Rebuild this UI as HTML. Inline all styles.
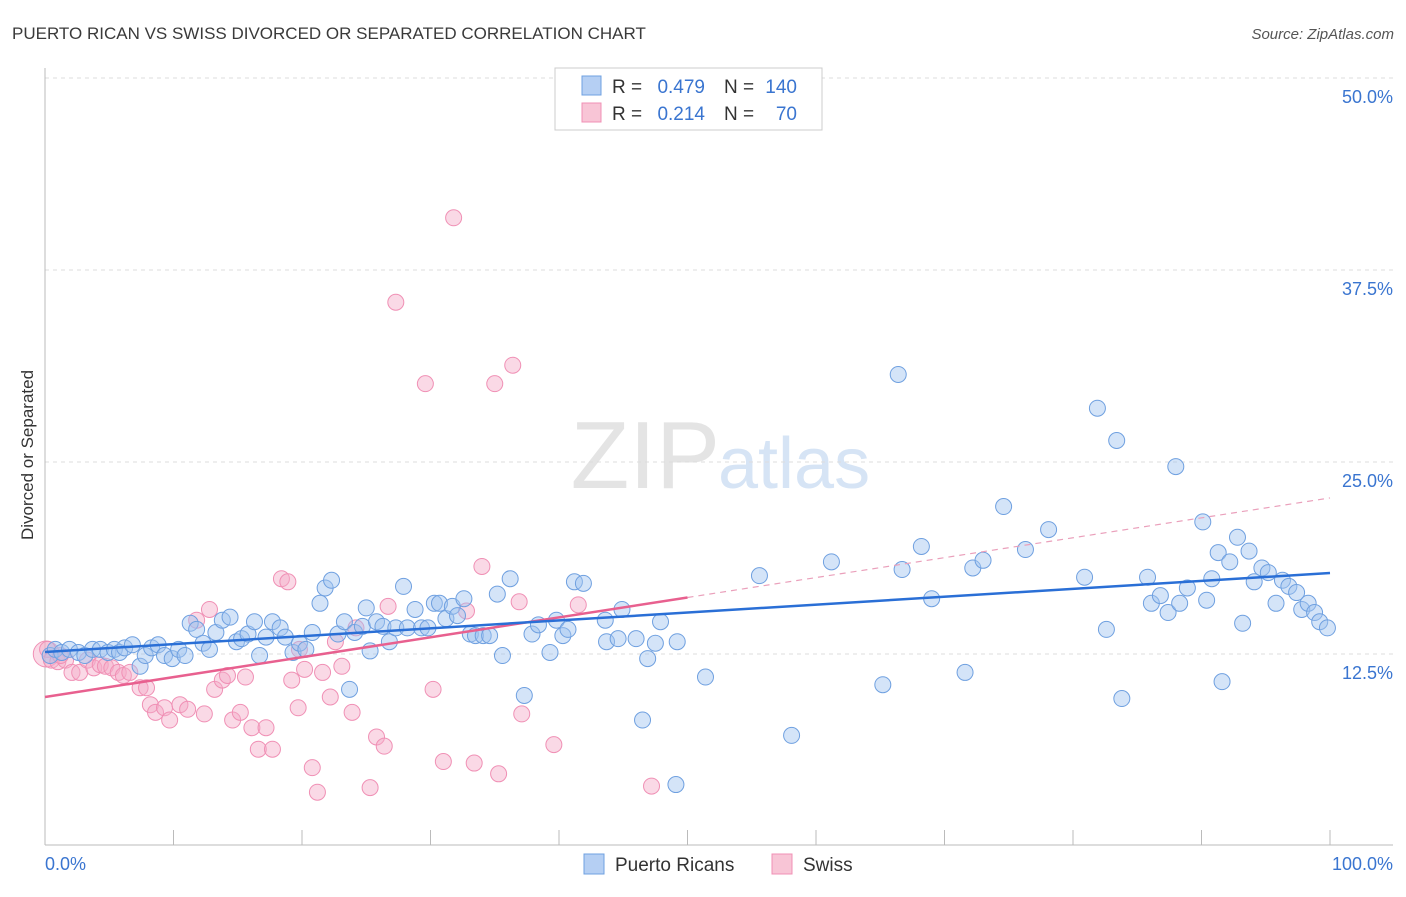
<!DOCTYPE html>
<html><head><meta charset="utf-8"><style>
body{margin:0;background:#fff;font-family:"Liberation Sans",sans-serif;}
svg text{font-family:"Liberation Sans",sans-serif;}
</style></head><body>
<svg id="chart" width="1406" height="892" viewBox="0 0 1406 892" xmlns="http://www.w3.org/2000/svg">
<text x="12" y="39" font-size="17" fill="#3a3a3a">PUERTO RICAN VS SWISS DIVORCED OR SEPARATED CORRELATION CHART</text>
<text x="1394" y="39" font-size="15" fill="#555" font-style="italic" text-anchor="end">Source: ZipAtlas.com</text>
<text x="720" y="488" font-size="96" fill="#e4e4e4" text-anchor="end" font-family="Liberation Serif">ZIP</text>
<text x="718" y="488" font-size="72" fill="#d6e4f5">atlas</text>
<text transform="translate(33,455) rotate(-90)" font-size="17" fill="#333" text-anchor="middle">Divorced or Separated</text>
<g id="grid"></g>
<g id="axes"></g>
<g id="marks"></g>
<g>
<rect x="555" y="68" width="267" height="62" fill="#fff" stroke="#ccc"/>
<rect x="582" y="76" width="19" height="19" fill="#b5cff3" stroke="#6fa0e0"/>
<rect x="582" y="103" width="19" height="19" fill="#f8c5d6" stroke="#f090b5"/>
<text x="612" y="93" font-size="19" fill="#333">R =</text>
<text x="705" y="93" font-size="19" fill="#3a75d0" text-anchor="end">0.479</text>
<text x="724" y="93" font-size="19" fill="#333">N =</text>
<text x="797" y="93" font-size="19" fill="#3a75d0" text-anchor="end">140</text>
<text x="612" y="120" font-size="19" fill="#333">R =</text>
<text x="705" y="120" font-size="19" fill="#3a75d0" text-anchor="end">0.214</text>
<text x="724" y="120" font-size="19" fill="#333">N =</text>
<text x="797" y="120" font-size="19" fill="#3a75d0" text-anchor="end">70</text>
</g>
<g>
<rect x="584" y="854" width="20" height="20" fill="#b5cff3" stroke="#6fa0e0"/>
<text x="615" y="871" font-size="19" fill="#333">Puerto Ricans</text>
<rect x="772" y="854" width="20" height="20" fill="#f8c5d6" stroke="#f090b5"/>
<text x="803" y="871" font-size="19" fill="#333">Swiss</text>
</g>
</svg>
<script>
const yTicks=[12.5,25,37.5,50];
const yTickLabels=["12.5%","25.0%","37.5%","50.0%"];
const xTickLabels=["0.0%","100.0%"];
const blueX=[0.4,0.8,1.3,1.9,2.6,3.1,3.7,4.3,4.9,5.4,5.8,6.2,6.8,7.4,7.8,8.3,8.8,9.3,9.9,10.4,10.9,11.3,11.8,12.3,12.8,13.3,13.8,14.4,14.9,15.3,15.8,16.3,16.7,17.2,17.7,18.3,18.7,19.3,19.8,20.3,20.8,21.4,21.8,22.3,22.8,23.3,23.7,24.1,24.7,25.0,25.3,25.8,26.3,26.8,27.3,27.9,28.2,28.8,29.3,29.8,30.3,30.7,31.2,31.7,32.1,32.6,33.1,33.5,34.1,34.6,35.2,35.6,36.2,37.3,37.9,38.4,39.3,39.8,40.3,40.7,41.2,41.9,43.6,43.7,44.6,44.9,46.0,46.5,46.9,47.5,47.9,49.1,49.2,51.4,55.6,58.1,61.2,65.2,66.4,66.7,68.2,69.0,71.6,72.2,73.0,74.6,76.3,78.1,80.9,81.9,82.6,83.4,83.8,85.8,86.1,86.8,87.4,88.0,88.3,88.9,90.1,90.4,90.8,91.3,91.6,92.2,92.8,93.2,93.7,94.1,94.7,95.2,95.8,96.3,96.8,97.4,97.8,98.3,98.8,99.2,99.8];
const blueY=[12.4,12.8,12.6,12.8,12.6,12.4,12.8,12.8,12.6,12.8,12.6,12.9,13.1,11.7,12.4,12.9,13.1,12.4,12.2,12.8,12.4,14.5,14.1,13.2,12.8,13.9,14.7,14.9,13.3,13.5,13.8,14.6,12.4,13.6,14.6,14.2,13.6,12.6,13.2,12.8,13.9,15.8,16.8,17.3,13.8,14.6,10.2,13.9,14.3,15.5,12.7,14.6,14.3,13.3,14.2,16.9,14.2,15.4,14.2,14.2,15.8,15.8,14.8,15.6,15.0,16.1,13.8,13.7,13.7,13.7,16.4,12.4,17.4,9.8,13.8,14.4,12.6,14.7,13.7,14.1,17.2,17.1,14.7,13.3,13.5,15.4,13.5,8.2,12.2,13.2,14.6,4.0,13.3,11.0,17.6,7.2,18.5,10.5,30.7,18.0,19.5,16.1,11.3,18.1,18.6,22.1,19.3,20.6,17.5,28.5,14.1,26.4,9.6,17.5,15.8,16.3,15.2,24.7,15.8,16.8,21.1,16.0,17.4,19.1,10.7,18.5,20.1,14.5,19.2,17.2,18.1,17.8,15.8,17.3,16.9,16.5,15.4,15.8,15.2,14.6,14.2];
const pinkX=[0.2,0.5,1.0,1.6,2.1,2.7,3.3,3.8,4.3,4.7,5.2,5.7,6.1,6.6,7.4,7.9,8.2,8.6,9.3,9.7,10.5,11.1,11.8,12.4,12.8,13.2,13.8,14.2,14.6,15.2,15.6,16.1,16.6,17.2,17.7,18.4,18.9,19.2,19.7,20.2,20.8,21.2,21.6,22.2,22.6,23.1,23.9,24.2,25.8,26.4,25.3,26.7,27.3,29.6,30.2,31.0,31.8,33.4,32.8,34.0,35.0,35.3,36.4,36.9,37.1,39.6,41.5,47.2,19.8,1.2];
const pinkY=[12.8,12.1,12.0,12.1,11.3,11.3,12.1,11.6,11.8,11.7,11.6,11.3,11.1,11.3,10.3,10.3,9.2,8.7,9.0,8.2,9.2,8.9,14.7,8.6,15.4,10.2,10.8,11.1,8.2,8.7,11.0,7.7,6.3,7.7,6.3,17.4,17.2,10.8,9.0,11.5,5.1,3.5,11.3,9.7,13.3,11.7,8.7,14.2,7.1,6.5,3.8,15.6,35.4,30.1,10.2,5.5,40.9,5.4,15.3,18.2,30.1,4.7,31.3,15.9,8.6,6.6,15.7,3.9,12.8,12.4];
const blueTrend=[12.63,17.77];
const pinkTrend=[9.7,22.66];

const NS="http://www.w3.org/2000/svg";
const X0=45,X1=1330,Y0=846,YS=15.36;
function sx(v){return X0+(X1-X0)*v/100;}
function sy(v){return Y0-v*YS;}
function mk(tag,attrs,parent){const e=document.createElementNS(NS,tag);for(const k in attrs)e.setAttribute(k,attrs[k]);parent.appendChild(e);return e;}
const grid=document.getElementById('grid'),axes=document.getElementById('axes'),marks=document.getElementById('marks');
yTicks.forEach((t,i)=>{
  const l=mk('line',{x1:45,x2:1393,y1:sy(t),y2:sy(t),stroke:'#ddd','stroke-dasharray':'4,4'},grid);
  
  
  const tx=mk('text',{x:1393,y:sy(t)+25,'font-size':18,fill:'#3a75d0','text-anchor':'end'},axes);
  tx.textContent=yTickLabels[i];
  
  
});
const ax=mk('line',{x1:45,x2:1393,y1:845,y2:845,stroke:'#bbb'},axes);


const ay=mk('line',{x1:45,x2:45,y1:68,y2:845,stroke:'#bbb'},axes);


for(let i=0;i<=10;i++){
  const tk=mk('line',{x1:sx(i*10),x2:sx(i*10),y1:830,y2:845,stroke:'#bbb'},axes);
  
  
}
[[0,'start',45],[100,'end',1393]].forEach((d,i)=>{
  const t=mk('text',{x:d[2],y:870,'font-size':18,fill:'#3a75d0','text-anchor':d[1]},axes);
  t.textContent=xTickLabels[i];
  
  
});
const big=mk('circle',{cx:sx(0.1),cy:sy(12.5),r:13,fill:'rgba(245,170,200,0.45)',stroke:'#f090b5'},marks);


pinkX.forEach((x,i)=>{
  const c=mk('circle',{cx:sx(x),cy:sy(pinkY[i]),r:8,fill:'rgba(245,170,200,0.45)',stroke:'#f090b5','stroke-width':1},marks);
  
  
});
blueX.forEach((x,i)=>{
  const c=mk('circle',{cx:sx(x),cy:sy(blueY[i]),r:8,fill:'rgba(160,196,240,0.45)',stroke:'#6fa0e0','stroke-width':1},marks);
  
  
});
const pl=mk('line',{x1:sx(0),y1:sy(pinkTrend[0]),x2:sx(50),y2:sy(pinkTrend[0]+(pinkTrend[1]-pinkTrend[0])*0.5),stroke:'#e8608f','stroke-width':2.5},marks);


const pd=mk('line',{x1:sx(50),y1:sy(pinkTrend[0]+(pinkTrend[1]-pinkTrend[0])*0.5),x2:sx(100),y2:sy(pinkTrend[1]),stroke:'#eaa0bb','stroke-width':1.2,'stroke-dasharray':'6,5'},marks);


const bl=mk('line',{x1:sx(0),y1:sy(blueTrend[0]),x2:sx(100),y2:sy(blueTrend[1]),stroke:'#2a6fd6','stroke-width':2.5},marks);


</script>
</body></html>
